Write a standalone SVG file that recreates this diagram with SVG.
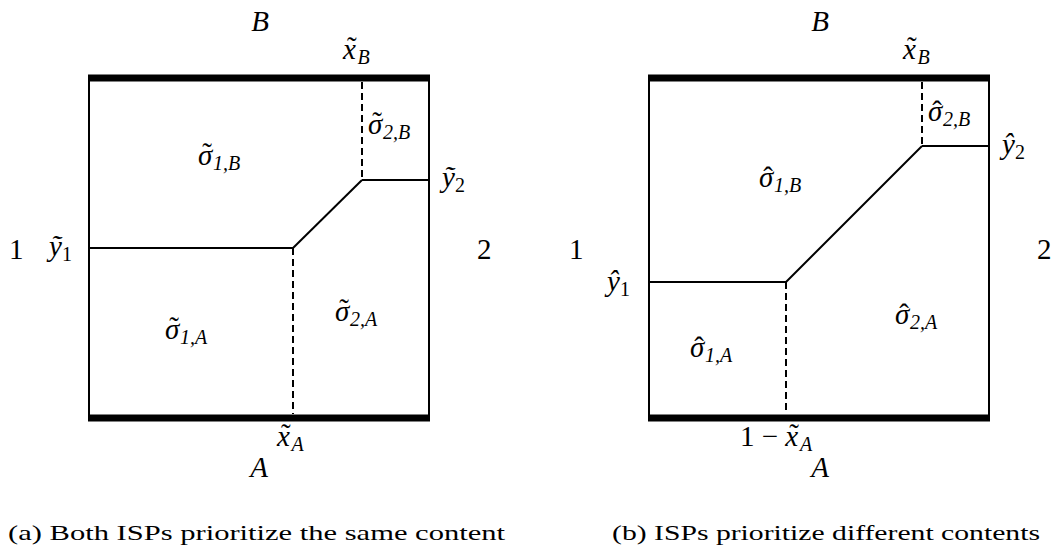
<svg xmlns="http://www.w3.org/2000/svg" width="1057" height="557" viewBox="0 0 1057 557" font-family="Liberation Serif, serif">
<style>
.ln{stroke:#000;stroke-width:2;fill:none}
.th{stroke:#000;stroke-width:7;fill:none}
.ds{stroke:#000;stroke-width:2;fill:none;stroke-dasharray:7 4}
.m{font-style:italic;font-size:29px}
.r{font-size:29px}
.s{font-size:20px}
.n{font-style:normal}
.ac{font-style:normal}
.cap{font-size:21px}
</style>
<rect width="1057" height="557" fill="#fff"/>
<g id="panel-a">
  <g id="a-box">
    <line class="ln" x1="89" y1="78" x2="89" y2="418"/>
    <line class="ln" x1="429" y1="78" x2="429" y2="418"/>
    <line class="th" x1="88" y1="78" x2="430" y2="78"/>
    <line class="th" x1="88" y1="418" x2="430" y2="418"/>
  </g>
  <g id="a-connectors">
    <line class="ds" x1="362" y1="82" x2="362" y2="180"/>
    <line class="ln" x1="362" y1="180" x2="429" y2="180"/>
    <line class="ln" x1="362" y1="180" x2="293" y2="248"/>
    <line class="ln" x1="89" y1="248" x2="293" y2="248"/>
    <line class="ds" x1="293" y1="248" x2="293" y2="414"/>
  </g>
  <g id="a-labels">
    <text class="m" x="260" y="31" text-anchor="middle">B</text>
    <text class="m" x="343" y="59">x<tspan class="ac" dx="-9" dy="-2">˜</tspan><tspan class="s" dx="1" dy="7">B</tspan></text>
    <text class="m" x="368" y="134">σ<tspan class="ac" dx="-10" dy="-2">˜</tspan><tspan class="s" dx="1" dy="7">2,B</tspan></text>
    <text class="m" x="198" y="165">σ<tspan class="ac" dx="-10" dy="-2">˜</tspan><tspan class="s" dx="1" dy="7">1,B</tspan></text>
    <text class="m" x="442" y="187">ỹ<tspan class="s n" dy="5">2</tspan></text>
    <text class="r" x="9" y="259">1</text>
    <text class="m" x="49" y="256">ỹ<tspan class="s n" dy="5">1</tspan></text>
    <text class="r" x="477" y="259">2</text>
    <text class="m" x="165" y="339">σ<tspan class="ac" dx="-10" dy="-2">˜</tspan><tspan class="s" dx="1" dy="7">1,A</tspan></text>
    <text class="m" x="335" y="321">σ<tspan class="ac" dx="-10" dy="-2">˜</tspan><tspan class="s" dx="1" dy="7">2,A</tspan></text>
    <text class="m" x="277" y="446">x<tspan class="ac" dx="-9" dy="-2">˜</tspan><tspan class="s" dx="1" dy="7">A</tspan></text>
    <text class="m" x="259" y="477" text-anchor="middle">A</text>
  </g>
  <text id="a-caption" class="cap" x="8" y="540" textLength="497" lengthAdjust="spacingAndGlyphs">(a) Both ISPs prioritize the same content</text>
</g>
<g id="panel-b">
  <g id="b-box">
    <line class="ln" x1="649" y1="78" x2="649" y2="418"/>
    <line class="ln" x1="989" y1="78" x2="989" y2="418"/>
    <line class="th" x1="648" y1="78" x2="990" y2="78"/>
    <line class="th" x1="648" y1="418" x2="990" y2="418"/>
  </g>
  <g id="b-connectors">
    <line class="ds" x1="922" y1="82" x2="922" y2="146"/>
    <line class="ln" x1="922" y1="146" x2="989" y2="146"/>
    <line class="ln" x1="922" y1="146" x2="786" y2="282"/>
    <line class="ln" x1="649" y1="282" x2="786" y2="282"/>
    <line class="ds" x1="786" y1="282" x2="786" y2="414"/>
  </g>
  <g id="b-labels">
    <text class="m" x="820" y="31" text-anchor="middle">B</text>
    <text class="m" x="903" y="59">x<tspan class="ac" dx="-9" dy="-2">˜</tspan><tspan class="s" dx="1" dy="7">B</tspan></text>
    <text class="m" x="928" y="121">σ<tspan class="ac" dx="-10">ˆ</tspan><tspan class="s" dx="1" dy="5">2,B</tspan></text>
    <text class="m" x="759" y="187">σ<tspan class="ac" dx="-10">ˆ</tspan><tspan class="s" dx="1" dy="5">1,B</tspan></text>
    <text class="m" x="1002" y="154">ŷ<tspan class="s n" dy="5">2</tspan></text>
    <text class="r" x="569" y="259">1</text>
    <text class="m" x="607" y="291">ŷ<tspan class="s n" dy="5">1</tspan></text>
    <text class="r" x="1037" y="259">2</text>
    <text class="m" x="690" y="357">σ<tspan class="ac" dx="-10">ˆ</tspan><tspan class="s" dx="1" dy="5">1,A</tspan></text>
    <text class="m" x="895" y="324">σ<tspan class="ac" dx="-10">ˆ</tspan><tspan class="s" dx="1" dy="5">2,A</tspan></text>
    <text class="m" x="740" y="446"><tspan class="n">1 − </tspan>x<tspan class="ac" dx="-9" dy="-2">˜</tspan><tspan class="s" dx="1" dy="7">A</tspan></text>
    <text class="m" x="820" y="477" text-anchor="middle">A</text>
  </g>
  <text id="b-caption" class="cap" x="612" y="540" textLength="428" lengthAdjust="spacingAndGlyphs">(b) ISPs prioritize different contents</text>
</g>
</svg>
